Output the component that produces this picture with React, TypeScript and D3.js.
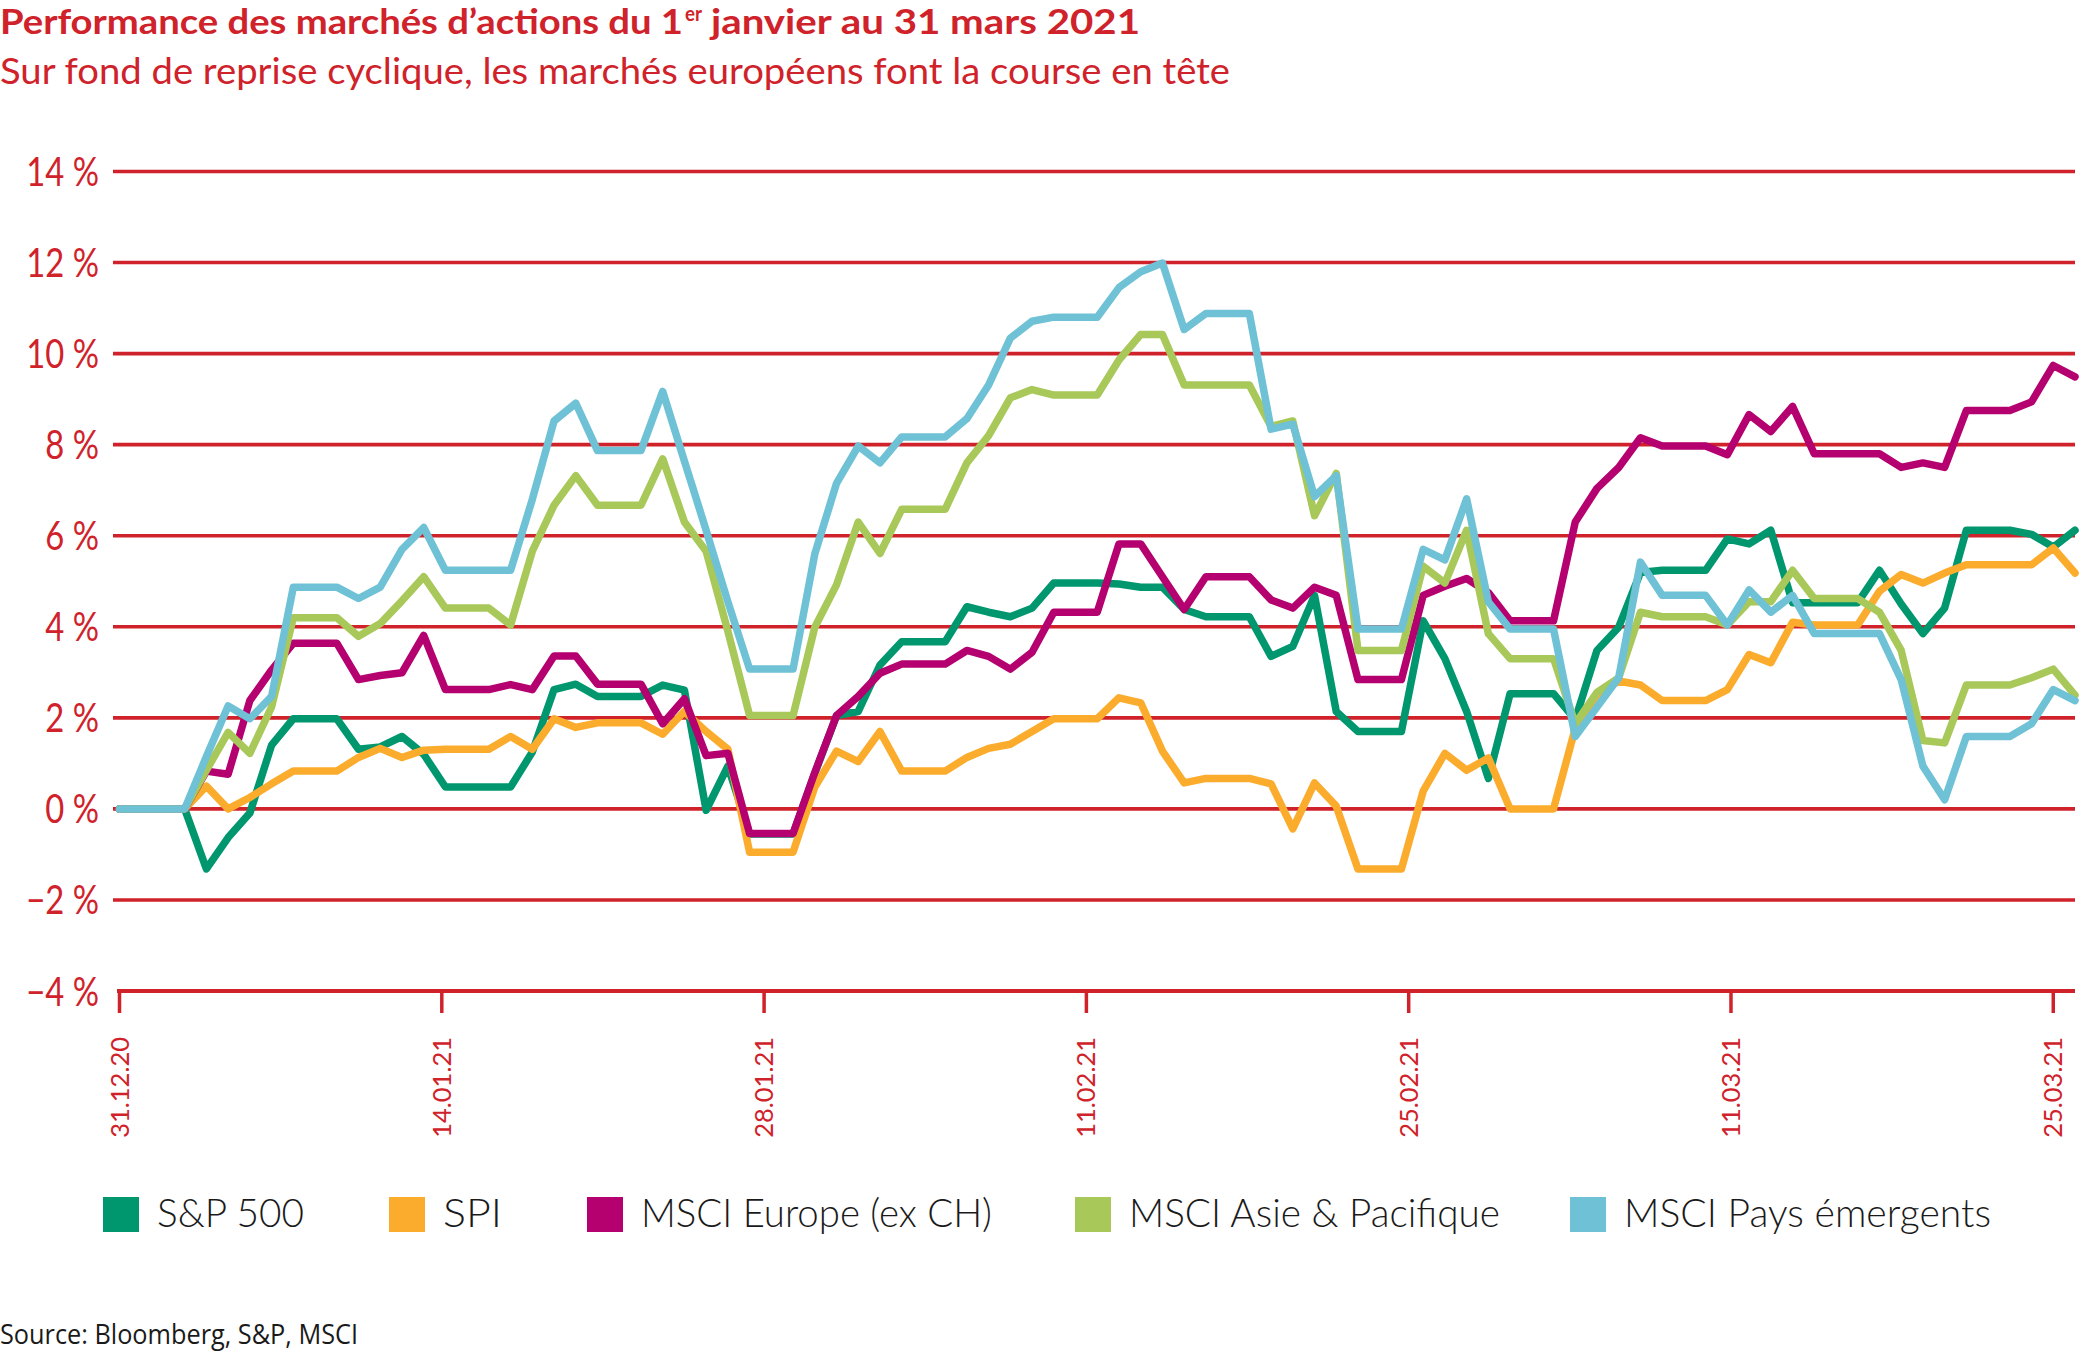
import React, { useRef, useEffect } from "react";
import { select, scaleLinear, scalePoint, line } from "d3";

const WIDTH = 2081;
const HEIGHT = 1354;
const RED = "#d0222a";
const FONT = "Lato, 'Open Sans', sans-serif";

// daily values (calendar days) from 31.12.20 to 31.03.21, in %
const SP500 = [
  0, 0, 0, 0, -1.32, -0.63, -0.09,
  1.4, 1.98, 1.98, 1.98, 1.31, 1.36, 1.59,
  1.2, 0.48, 0.48, 0.48, 0.48, 1.25, 2.62,
  2.74, 2.47, 2.47, 2.47, 2.72, 2.61, -0.03,
  0.94, -0.55, -0.55, -0.55, 0.78, 2.05, 2.14,
  3.16, 3.67, 3.67, 3.67, 4.44, 4.32, 4.22,
  4.41, 4.96, 4.96, 4.96, 4.94, 4.87, 4.87,
  4.38, 4.22, 4.22, 4.22, 3.35, 3.57, 4.69,
  2.14, 1.7, 1.7, 1.7, 4.13, 3.3, 2.14,
  0.67, 2.53, 2.53, 2.53, 1.96, 3.48, 3.99,
  5.19, 5.24, 5.24, 5.24, 5.93, 5.82, 6.12,
  4.53, 4.53, 4.53, 4.53, 5.24, 4.5, 3.85,
  4.41, 6.12, 6.12, 6.12, 6.03, 5.75, 6.12,
];

const SPI = [
  0, 0, 0, 0, 0.5, 0, 0.25,
  0.55, 0.83, 0.83, 0.83, 1.13, 1.33, 1.13,
  1.29, 1.31, 1.31, 1.31, 1.59, 1.31, 1.98,
  1.79, 1.89, 1.89, 1.89, 1.64, 2.14, 1.7,
  1.31, -0.95, -0.95, -0.95, 0.48, 1.27, 1.04,
  1.7, 0.83, 0.83, 0.83, 1.13, 1.33, 1.42,
  1.7, 1.98, 1.98, 1.98, 2.44, 2.33, 1.27,
  0.57, 0.67, 0.67, 0.67, 0.55, -0.44, 0.57,
  0.06, -1.32, -1.32, -1.32, 0.39, 1.22, 0.85,
  1.12, 0, 0, 0, 1.77, 2.51, 2.81,
  2.72, 2.38, 2.38, 2.38, 2.62, 3.39, 3.21,
  4.1, 4.04, 4.04, 4.04, 4.78, 5.15, 4.96,
  5.18, 5.36, 5.36, 5.36, 5.36, 5.73, 5.18,
];

const EUROPE = [
  0, 0, 0, 0, 0.83, 0.76, 2.38,
  3.05, 3.64, 3.64, 3.64, 2.84, 2.93, 2.99,
  3.81, 2.62, 2.62, 2.62, 2.73, 2.62, 3.36,
  3.36, 2.74, 2.74, 2.74, 1.87, 2.42, 1.17,
  1.22, -0.54, -0.54, -0.54, 0.8, 2.05, 2.47,
  2.98, 3.18, 3.18, 3.18, 3.48, 3.35, 3.07,
  3.44, 4.32, 4.32, 4.32, 5.82, 5.82, 5.1,
  4.38, 5.1, 5.1, 5.1, 4.59, 4.41, 4.87,
  4.69, 2.84, 2.84, 2.84, 4.69, 4.89, 5.06,
  4.75, 4.13, 4.13, 4.13, 6.3, 7.04, 7.5,
  8.15, 7.97, 7.97, 7.97, 7.78, 8.66, 8.29,
  8.84, 7.8, 7.8, 7.8, 7.8, 7.5, 7.6,
  7.5, 8.75, 8.75, 8.75, 8.94, 9.74, 9.49,
];

const ASIE = [
  0, 0, 0, 0, 0.85, 1.68, 1.22,
  2.24, 4.2, 4.2, 4.2, 3.79, 4.07, 4.57,
  5.1, 4.41, 4.41, 4.41, 4.04, 5.66, 6.67,
  7.32, 6.67, 6.67, 6.67, 7.69, 6.3, 5.66,
  3.9, 2.05, 2.05, 2.05, 3.99, 4.92, 6.3,
  5.61, 6.58, 6.58, 6.58, 7.6, 8.2, 9.03,
  9.21, 9.09, 9.09, 9.09, 9.86, 10.42, 10.42,
  9.31, 9.31, 9.31, 9.31, 8.4, 8.52, 6.44,
  7.37, 3.48, 3.48, 3.48, 5.33, 4.96, 6.12,
  3.85, 3.3, 3.3, 3.3, 1.87, 2.56, 2.88,
  4.32, 4.22, 4.22, 4.22, 4.04, 4.55, 4.55,
  5.24, 4.62, 4.62, 4.62, 4.32, 3.48, 1.5,
  1.45, 2.72, 2.72, 2.72, 2.88, 3.07, 2.5,
];

const EMERGENTS = [
  0, 0, 0, 0, 1.15, 2.26, 1.98,
  2.47, 4.87, 4.87, 4.87, 4.62, 4.87, 5.7,
  6.18, 5.24, 5.24, 5.24, 5.24, 6.8, 8.52,
  8.91, 7.87, 7.87, 7.87, 9.17, 7.64, 6.12,
  4.55, 3.07, 3.07, 3.07, 5.6, 7.15, 7.97,
  7.6, 8.17, 8.17, 8.17, 8.57, 9.31, 10.34,
  10.71, 10.8, 10.8, 10.8, 11.45, 11.8, 11.99,
  10.53, 10.88, 10.88, 10.88, 8.34, 8.45, 6.86,
  7.32, 3.95, 3.95, 3.95, 5.7, 5.47, 6.81,
  4.55, 3.95, 3.95, 3.95, 1.59, 2.24, 2.88,
  5.42, 4.69, 4.69, 4.69, 4.04, 4.81, 4.32,
  4.69, 3.85, 3.85, 3.85, 3.85, 2.84, 0.94,
  0.2, 1.59, 1.59, 1.59, 1.87, 2.62, 2.38,
];

const SERIES_NAMES = [
  "S&P 500",
  "SPI",
  "MSCI Europe (ex CH)",
  "MSCI Asie & Pacifique",
  "MSCI Pays émergents",
];
const SERIES_VALUES = [SP500, SPI, EUROPE, ASIE, EMERGENTS];
const SERIES_COLORS = ["#00966e", "#fbac2d", "#b5006f", "#a8c85a", "#6fc1d5"];

const Y_TICKS = [14, 12, 10, 8, 6, 4, 2, 0, -2, -4];
const X_LABELS = [
  "31.12.20",
  "14.01.21",
  "28.01.21",
  "11.02.21",
  "25.02.21",
  "11.03.21",
  "25.03.21",
];

// legend layout (x of swatch, width of label)
const LEGEND_X = [103, 389, 587, 1075, 1570];
const LEGEND_W = [147, 59, 351, 371, 367];

const fmtPct = (v: number) => `${v < 0 ? "\u2212" : ""}${Math.abs(v)} %`;

const drawChart = (svg: any) => {
  const x = scaleLinear().domain([0, SP500.length - 1]).range([119.5, 2075]);
  const y = scaleLinear().domain([-4, 14]).range([991, 171.5]);
  const xTick = scalePoint().domain(X_LABELS).range([x(0), x(89)]);

  // gridlines
  svg
    .append("g")
    .selectAll("line")
    .data(Y_TICKS.filter((d) => d > -4))
    .enter()
    .append("line")
    .attr("x1", 113)
    .attr("x2", 2075)
    .attr("y1", (d) => y(d))
    .attr("y2", (d) => y(d))
    .attr("stroke", RED)
    .attr("stroke-width", 3.6);

  // y labels
  svg
    .append("g")
    .selectAll("text")
    .data(Y_TICKS)
    .enter()
    .append("text")
    .attr("transform", (d) => `translate(99,${y(d) + 14.5}) scale(0.82,1)`)
    .attr("text-anchor", "end")
    .attr("font-family", FONT)
    .attr("font-size", 40)
    .attr("fill", RED)
    .text(fmtPct);

  // x axis baseline + ticks
  svg
    .append("line")
    .attr("x1", 117)
    .attr("x2", 2075)
    .attr("y1", y(-4))
    .attr("y2", y(-4))
    .attr("stroke", RED)
    .attr("stroke-width", 4.2);

  const xg = svg.append("g");
  xg.selectAll("line")
    .data(X_LABELS)
    .enter()
    .append("line")
    .attr("x1", (d) => xTick(d))
    .attr("x2", (d) => xTick(d))
    .attr("y1", y(-4) - 2)
    .attr("y2", y(-4) + 22)
    .attr("stroke", RED)
    .attr("stroke-width", 3.5);

  xg.selectAll("text")
    .data(X_LABELS)
    .enter()
    .append("text")
    .attr("transform", (d) => `translate(${xTick(d) + 9},1037) rotate(-90)`)
    .attr("text-anchor", "end")
    .attr("font-family", FONT)
    .attr("font-size", 25.5)
    .attr("fill", RED)
    .text((d) => d);

  // series
  const path = line<number>()
    .x((d, i) => x(i))
    .y((d) => y(d));

  svg
    .append("g")
    .selectAll("path")
    .data(SERIES_VALUES)
    .enter()
    .append("path")
    .attr("d", (d) => path(d))
    .attr("fill", "none")
    .attr("stroke", (d, i) => SERIES_COLORS[i])
    .attr("stroke-width", 7.5)
    .attr("stroke-linejoin", "round")
    .attr("stroke-linecap", "round");

  // legend
  const lg = svg.append("g");
  SERIES_NAMES.forEach((name, i) => {
    lg.append("rect")
      .attr("x", LEGEND_X[i])
      .attr("y", 1197)
      .attr("width", 36)
      .attr("height", 35)
      .attr("fill", SERIES_COLORS[i]);
    lg.append("text")
      .attr("x", LEGEND_X[i] + 54)
      .attr("y", 1227)
      .attr("font-family", FONT)
      .attr("font-weight", 300)
      .attr("font-size", 39)
      .attr("fill", "#1a1a1a")
      .attr("textLength", LEGEND_W[i])
      .attr("lengthAdjust", "spacingAndGlyphs")
      .text(name);
  });

  // titles
  const title = (txt: string, tx: number, ty: number, size: number, weight: number, len: number) =>
    svg
      .append("text")
      .attr("x", tx)
      .attr("y", ty)
      .attr("font-family", FONT)
      .attr("font-size", size)
      .attr("font-weight", weight)
      .attr("fill", RED)
      .attr("textLength", len)
      .attr("lengthAdjust", "spacingAndGlyphs")
      .text(txt);

  title("Performance des marchés d\u2019actions du 1", 0, 34, 35, 700, 683);
  title("er", 685, 21, 20, 700, 17);
  title("janvier au 31 mars 2021", 711, 34, 35, 700, 429);
  title("Sur fond de reprise cyclique, les marchés européens font la course en tête", 0, 84, 37, 400, 1230);

  svg
    .append("text")
    .attr("x", 0)
    .attr("y", 1344)
    .attr("font-family", "'Open Sans', sans-serif")
    .attr("font-size", 27)
    .attr("fill", "#1a1a1a")
    .attr("textLength", 358)
    .attr("lengthAdjust", "spacingAndGlyphs")
    .text("Source: Bloomberg, S&P, MSCI");
};

export default function App() {
  const node = useRef<HTMLDivElement>(null);

  useEffect(() => {
    if (!node.current) return;
    node.current.innerHTML = "";
    const svg = select(node.current)
      .append("svg")
      .attr("width", WIDTH)
      .attr("height", HEIGHT)
      .style("position", "absolute")
      .style("left", "0px")
      .style("top", "0px")
      .style("background", "#ffffff");
    drawChart(svg);
  }, []);

  return <div ref={node} />;
}
